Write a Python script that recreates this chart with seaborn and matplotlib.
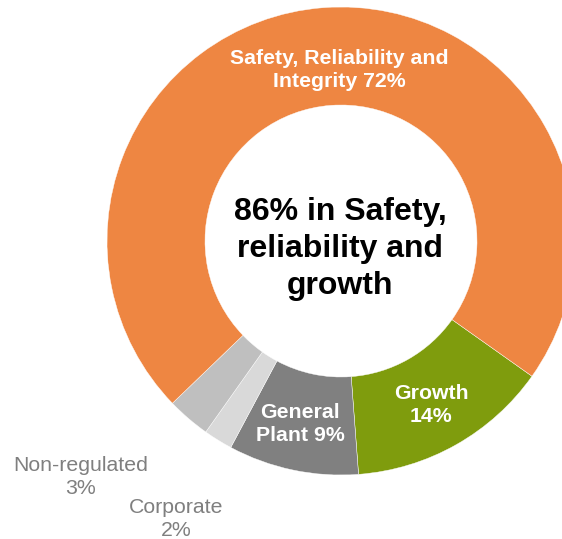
import matplotlib
matplotlib.use("Agg")
import matplotlib.pyplot as plt
import seaborn as sns

# ----------------------------------
# Data
# ----------------------------------
categories = ["Growth", "General Plant", "Corporate", "Non-regulated",
              "Safety, Reliability and Integrity"]
shares = [14, 9, 2, 3, 72]
labels = ["Growth\n14%", "General\nPlant 9%", "Corporate\n2%",
          "Non-regulated\n3%", "Safety, Reliability and\nIntegrity 72%"]
center_text = "86% in Safety,\nreliability and\ngrowth"

colors = ["#7F9C0D", "#808080", "#D9D9D9", "#BFBFBF", "#EE8642"]

# ----------------------------------
# Plot
# ----------------------------------
sns.set_theme(style="white")
plt.rcParams["font.family"] = ["Liberation Sans", "DejaVu Sans"]

W, H = 562, 539
fig = plt.figure(figsize=(W / 100, H / 100), dpi=100)
ax = fig.add_axes([0, 0, 1, 1])

cx, cy, R = 341, H - 241, 234
ax.pie(shares, colors=colors, startangle=-35.3, counterclock=False,
       center=(cx, cy), radius=R,
       wedgeprops=dict(width=R - 136, edgecolor="white", linewidth=0.3))
ax.set_xlim(0, W)
ax.set_ylim(0, H)
ax.set_aspect("equal")
ax.axis("off")

# label positions (pixel coords from top-left)
label_pos = {
    "Growth": (431, 405, "white", "bold"),
    "General Plant": (300, 424, "white", "bold"),
    "Corporate": (176, 519, "#7F7F7F", "normal"),
    "Non-regulated": (81, 477, "#7F7F7F", "normal"),
    "Safety, Reliability and Integrity": (339, 70, "white", "bold"),
}
for cat, lab in zip(categories, labels):
    x, y, c, w = label_pos[cat]
    ax.text(x, H - y, lab, ha="center", va="center", color=c,
            fontsize=15.3, fontweight=w, linespacing=1.32)

ax.text(340, H - 249, center_text, ha="center", va="center", color="black",
        fontsize=23, fontweight="bold", linespacing=1.3)

plt.savefig("out.png", dpi=100)
